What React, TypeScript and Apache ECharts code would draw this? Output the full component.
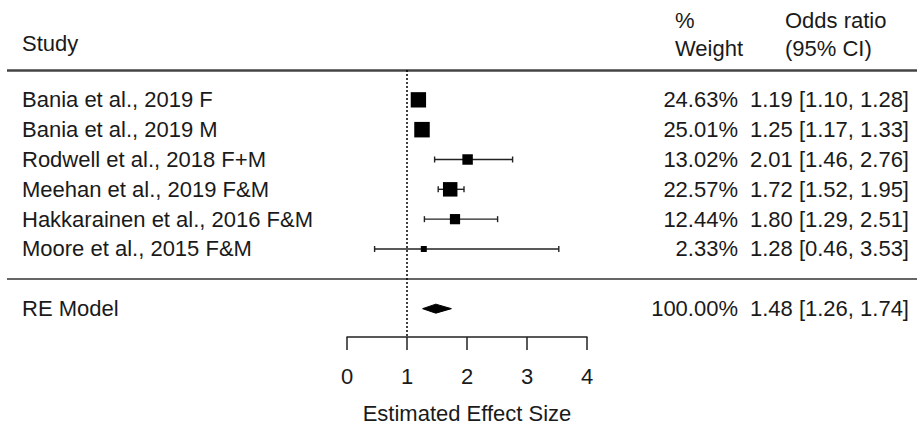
import React, { useEffect, useRef } from "react";
import * as echarts from "echarts";

const studies = [
  "Bania et al., 2019 F",
  "Bania et al., 2019 M",
  "Rodwell et al., 2018 F+M",
  "Meehan et al., 2019 F&M",
  "Hakkarainen et al., 2016 F&M",
  "Moore et al., 2015 F&M",
];
const weights = [24.63, 25.01, 13.02, 22.57, 12.44, 2.33];
const oddsRatio = [1.19, 1.25, 2.01, 1.72, 1.8, 1.28];
const ciLower = [1.1, 1.17, 1.46, 1.52, 1.29, 0.46];
const ciUpper = [1.28, 1.33, 2.76, 1.95, 2.51, 3.53];

const reLabel = "RE Model";
const reWeight = 100.0;
const reEstimate = 1.48;
const reLower = 1.26;
const reUpper = 1.74;

const xTicks = [0, 1, 2, 3, 4];
const axisTitle = "Estimated Effect Size";
const headerStudy = "Study";
const headerWeight = ["%", "Weight"];
const headerOR = ["Odds ratio", "(95% CI)"];

const FONT = '"Liberation Sans", Arial, Helvetica, sans-serif';
const TXT = "#1a1a1a";
const FS = 22;

const reRow = studies.length + 1;
const sepRow = studies.length;

export default function App() {
  const ref = useRef<HTMLDivElement>(null);
  useEffect(() => {
    if (!ref.current) return;
    const chart = echarts.init(ref.current, null, { renderer: "svg" });

    const rows = studies.map((_, i) => i);
    const allLabels = [...studies, reLabel];
    const allRows = [...rows, reRow];
    const weightTexts = [...weights, reWeight].map((w) => `${w.toFixed(2)}%`);
    const orTexts = [
      ...oddsRatio.map(
        (o, i) => `${o.toFixed(2)} [${ciLower[i].toFixed(2)}, ${ciUpper[i].toFixed(2)}]`
      ),
      `${reEstimate.toFixed(2)} [${reLower.toFixed(2)}, ${reUpper.toFixed(2)}]`,
    ];

    const textSeries = (name: string, xPos: number, texts: string[], align: string) => ({
      type: "custom",
      name,
      xAxisIndex: 1,
      yAxisIndex: 1,
      data: allRows.map((r) => [xPos, r]),
      encode: { x: 0, y: 1 },
      renderItem: (params: any, api: any) => {
        const p = api.coord([api.value(0), api.value(1)]);
        return {
          type: "text",
          x: p[0],
          y: p[1],
          style: {
            text: texts[params.dataIndex],
            fill: TXT,
            fontSize: FS,
            fontFamily: FONT,
            align,
            verticalAlign: "middle",
          },
        };
      },
    });

    const option: any = {
      animation: false,
      grid: [
        { left: 347, right: 330, top: 70, bottom: 88, outerBoundsMode: "none", containLabel: false },
        { left: 0, right: 0, top: 70, bottom: 88, outerBoundsMode: "none", containLabel: false },
      ],
      xAxis: [
        {
          type: "value",
          gridIndex: 0,
          position: "bottom",
          min: xTicks[0],
          max: xTicks[xTicks.length - 1],
          interval: 1,
          splitLine: { show: false },
          axisLine: { show: true, onZero: false, lineStyle: { color: "#222", width: 1.5 } },
          axisTick: { show: true, length: 13, lineStyle: { color: "#222", width: 1.5 } },
          axisLabel: { fontSize: FS, color: TXT, fontFamily: FONT, margin: 28 },
          name: axisTitle,
          nameLocation: "middle",
          nameGap: 65,
          nameTextStyle: { fontSize: FS, lineHeight: 22, color: TXT, fontFamily: FONT },
        },
        { type: "value", gridIndex: 1, min: 0, max: 917, show: false },
      ],
      yAxis: [
        { type: "value", gridIndex: 0, inverse: true, min: -1, max: 7.95, show: false },
        { type: "value", gridIndex: 1, inverse: true, min: -1, max: 7.95, show: false },
      ],
      graphic: [
        { type: "text", left: 22, top: 32, style: { text: headerStudy, fill: TXT, fontSize: FS, fontFamily: FONT } },
        { type: "text", left: 675, top: 9, style: { text: headerWeight[0], fill: TXT, fontSize: FS, fontFamily: FONT } },
        { type: "text", left: 675, top: 37, style: { text: headerWeight[1], fill: TXT, fontSize: FS, fontFamily: FONT } },
        { type: "text", left: 785, top: 9, style: { text: headerOR[0], fill: TXT, fontSize: FS, fontFamily: FONT } },
        { type: "text", left: 785, top: 37, style: { text: headerOR[1], fill: TXT, fontSize: FS, fontFamily: FONT } },
      ],
      series: [
        // horizontal rules (full width)
        {
          type: "line",
          xAxisIndex: 1,
          yAxisIndex: 1,
          data: [],
          markLine: {
            silent: true,
            symbol: ["none", "none"],
            label: { show: false },
            lineStyle: { type: "solid" },
            data: [
              [
                { coord: [7, -1], lineStyle: { color: "#444", width: 2.5, type: "solid" } },
                { coord: [917, -1] },
              ],
              [
                { coord: [7, sepRow], lineStyle: { color: "#333", width: 1.5, type: "solid" } },
                { coord: [917, sepRow] },
              ],
            ],
          },
        },
        // confidence intervals
        {
          type: "custom",
          xAxisIndex: 0,
          yAxisIndex: 0,
          data: rows.map((r, i) => [ciLower[i], ciUpper[i], r]),
          encode: { x: [0, 1], y: 2 },
          clip: false,
          renderItem: (params: any, api: any) => {
            const a = api.coord([api.value(0), api.value(2)]);
            const b = api.coord([api.value(1), api.value(2)]);
            const st = { stroke: "#222", lineWidth: 1.4 };
            const cap = 3;
            return {
              type: "group",
              children: [
                { type: "line", shape: { x1: a[0], y1: a[1], x2: b[0], y2: b[1] }, style: st },
                { type: "line", shape: { x1: a[0], y1: a[1] - cap, x2: a[0], y2: a[1] + cap }, style: st },
                { type: "line", shape: { x1: b[0], y1: b[1] - cap, x2: b[0], y2: b[1] + cap }, style: st },
              ],
            };
          },
        },
        // squares
        {
          type: "scatter",
          xAxisIndex: 0,
          yAxisIndex: 0,
          symbol: "rect",
          symbolSize: (_v: any, params: any) => 5 + 0.42 * weights[params.dataIndex],
          itemStyle: { color: "#000", opacity: 1 },
          data: rows.map((r, i) => [oddsRatio[i], r]),
          markLine: {
            silent: true,
            symbol: ["none", "none"],
            label: { show: false },
            lineStyle: { type: [2, 2], color: "#000", width: 1.5 },
            data: [{ xAxis: 1 }],
          },
        },
        // diamond
        {
          type: "custom",
          xAxisIndex: 0,
          yAxisIndex: 0,
          data: [[reLower, reEstimate, reUpper, reRow]],
          encode: { x: [0, 1, 2], y: 3 },
          renderItem: (_params: any, api: any) => {
            const l = api.coord([api.value(0), api.value(3)]);
            const c = api.coord([api.value(1), api.value(3)]);
            const r = api.coord([api.value(2), api.value(3)]);
            const h = 4.5;
            return {
              type: "polygon",
              shape: { points: [[l[0], l[1]], [c[0], c[1] - h], [r[0], r[1]], [c[0], c[1] + h]] },
              style: { fill: "#000", stroke: "#000", lineWidth: 1 },
            };
          },
        },
        textSeries("study", 22, allLabels, "left"),
        textSeries("weight", 738, weightTexts, "right"),
        textSeries("or", 909, orTexts, "right"),
      ],
    };
    chart.setOption(option);
    return () => chart.dispose();
  }, []);
  return (
    <div
      ref={ref}
      style={{ position: "fixed", left: 0, top: 0, width: 917, height: 425, background: "#fff" }}
    />
  );
}
